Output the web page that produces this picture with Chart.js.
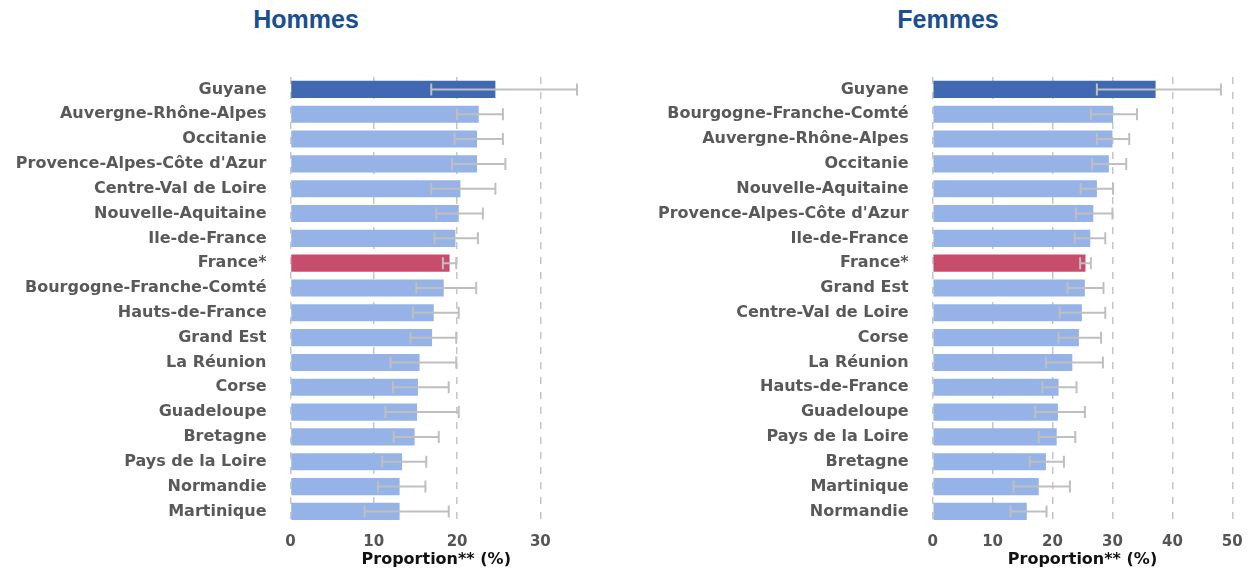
<!DOCTYPE html>
<html lang="fr">
<head>
<meta charset="utf-8">
<title>Proportion par région - Hommes / Femmes</title>
<script src="https://cdn.jsdelivr.net/npm/chart.js@4.4.1/dist/chart.umd.min.js"></script>
<style>
    body { margin: 0; background: #fff; }
    .wrap { position: relative; width: 1254px; height: 572px; overflow: hidden; }
    .panel { position: absolute; top: 0; width: 612px; height: 572px; }
    .panel h2 {
        position: absolute; left: 0; top: 4.6px; width: 612px; margin: 0;
        text-align: center; line-height: 30px;
        font: bold 25px 'Liberation Sans', Arial, sans-serif; color: #1b4f8f;
    }
    .panel canvas { position: absolute; left: 0; top: 0; }
</style>
</head>
<body>
<div class="wrap">
    <div class="panel" style="left:0">
        <h2>Hommes</h2>
        <canvas id="hommes" width="612" height="572"></canvas>
    </div>
    <div class="panel" style="left:642px">
        <h2>Femmes</h2>
        <canvas id="femmes" width="612" height="572"></canvas>
    </div>
</div>
<script>
/*----------------------------------------DATA------------------------------------------------*/
const hommesLabels = ['Guyane', 'Auvergne-Rhône-Alpes', 'Occitanie', "Provence-Alpes-Côte d'Azur",
    'Centre-Val de Loire', 'Nouvelle-Aquitaine', 'Ile-de-France', 'France*', 'Bourgogne-Franche-Comté',
    'Hauts-de-France', 'Grand Est', 'La Réunion', 'Corse', 'Guadeloupe', 'Bretagne',
    'Pays de la Loire', 'Normandie', 'Martinique'];
const hommesValues = [24.6, 22.6, 22.4, 22.4, 20.4, 20.2, 19.8, 19.1, 18.4, 17.2, 17.0, 15.5, 15.3, 15.2, 14.9, 13.4, 13.1, 13.1];
const hommesLow = [16.9, 20.0, 19.7, 19.4, 16.9, 17.5, 17.3, 18.3, 15.1, 14.7, 14.4, 12.0, 12.3, 11.4, 12.4, 11.0, 10.5, 8.9];
const hommesHigh = [34.4, 25.5, 25.5, 25.8, 24.6, 23.1, 22.5, 19.9, 22.3, 20.2, 19.9, 19.9, 19.0, 20.2, 17.8, 16.3, 16.2, 19.0];

const femmesLabels = ['Guyane', 'Bourgogne-Franche-Comté', 'Auvergne-Rhône-Alpes', 'Occitanie',
    'Nouvelle-Aquitaine', "Provence-Alpes-Côte d'Azur", 'Ile-de-France', 'France*', 'Grand Est',
    'Centre-Val de Loire', 'Corse', 'La Réunion', 'Hauts-de-France', 'Guadeloupe',
    'Pays de la Loire', 'Bretagne', 'Martinique', 'Normandie'];
const femmesValues = [37.2, 30.1, 30.0, 29.4, 27.4, 26.8, 26.3, 25.5, 25.4, 24.9, 24.4, 23.3, 21.0, 20.9, 20.7, 18.9, 17.7, 15.7];
const femmesLow = [27.4, 26.4, 27.4, 26.6, 24.7, 23.9, 23.7, 24.6, 22.5, 21.2, 21.0, 18.9, 18.3, 17.1, 17.7, 16.2, 13.5, 13.0];
const femmesHigh = [48.1, 34.1, 32.8, 32.3, 30.1, 30.0, 28.8, 26.4, 28.5, 28.8, 28.1, 28.4, 24.0, 25.4, 23.8, 21.9, 22.9, 19.0];

const hommesTicks = [0, 10, 20, 30];
const femmesTicks = [0, 10, 20, 30, 40, 50];

/*---------------------------------------COLORS-----------------------------------------------*/
function barColor(label) {
    if (label === 'Guyane') return '#4169b2';
    if (label === 'France*') return '#c84d6c';
    return '#95b3e7';
}

/*-------------------------------------ERROR BARS---------------------------------------------*/
const errorBars = {
    id: 'errorBars',
    afterDatasetsDraw(chart, args, opts) {
        const ctx = chart.ctx;
        const x = chart.scales.x;
        const meta = chart.getDatasetMeta(0);
        ctx.save();
        ctx.strokeStyle = '#bfbfbf';
        ctx.lineWidth = 2;
        meta.data.forEach((bar, i) => {
            const x1 = x.getPixelForValue(opts.low[i]);
            const x2 = x.getPixelForValue(opts.high[i]);
            const y = bar.y;
            ctx.beginPath();
            ctx.moveTo(x1, y);
            ctx.lineTo(x2, y);
            ctx.moveTo(x1, y - 6);
            ctx.lineTo(x1, y + 6);
            ctx.moveTo(x2, y - 6);
            ctx.lineTo(x2, y + 6);
            ctx.stroke();
        });
        ctx.restore();
    }
};

/*----------------------------------------CHART-----------------------------------------------*/
function chart(id, labels, values, low, high, ticks, xMax, rightPad, axisWidth) {
    var config = {
        type: 'bar',
        data: {
            labels: labels,
            datasets: [{
                data: values,
                backgroundColor: labels.map(barColor),
                categoryPercentage: 1,
                barPercentage: 0.69
            }]
        },
        plugins: [errorBars],
        options: {
            indexAxis: 'y',
            responsive: false,
            animation: false,
            layout: { padding: { left: 0, right: rightPad, top: 77, bottom: 3 } },
            plugins: {
                legend: { display: false },
                tooltip: { enabled: false },
                errorBars: { low: low, high: high }
            },
            scales: {
                x: {
                    min: 0,
                    max: xMax,
                    afterBuildTicks: (scale) => {
                        scale.ticks = ticks.map(v => ({ value: v }));
                    },
                    grid: {
                        color: '#c6c6c6',
                        lineWidth: 1.5,
                        drawTicks: false
                    },
                    border: { display: false, dash: [7, 8] },
                    ticks: {
                        padding: 9,
                        color: '#555555',
                        font: { family: 'DejaVu Sans', size: 15, weight: 'bold' }
                    },
                    title: {
                        display: true,
                        text: 'Proportion** (%)',
                        color: '#111111',
                        font: { family: 'DejaVu Sans', size: 16, weight: 'bold' },
                        padding: { top: -10, bottom: 0 }
                    }
                },
                y: {
                    grid: { display: false, drawTicks: false },
                    border: { display: false },
                    afterFit: (scale) => { scale.width = axisWidth; },
                    ticks: {
                        autoSkip: false,
                        padding: 24,
                        color: '#595959',
                        font: { family: 'DejaVu Sans', size: 16, weight: 'bold' }
                    }
                }
            }
        }
    };
    return new Chart(document.getElementById(id), config);
}

chart('hommes', hommesLabels, hommesValues, hommesLow, hommesHigh, hommesTicks, 35, 30, 290.5);
chart('femmes', femmesLabels, femmesValues, femmesLow, femmesHigh, femmesTicks, 50, 21.7, 290.7);
</script>
</body>
</html>
